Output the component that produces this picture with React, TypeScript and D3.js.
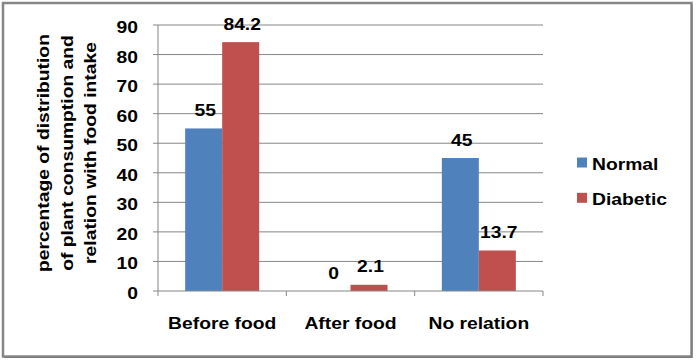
import React from 'react';
import * as d3 from 'd3';

const categories = ['Before food', 'After food', 'No relation'];
const seriesNames = ['Normal', 'Diabetic'];
const normalValues = [55, 0, 45];
const diabeticValues = [84.2, 2.1, 13.7];
const yTicks = [0, 10, 20, 30, 40, 50, 60, 70, 80, 90];
const yTitleLines = [
  'percentage of distribution',
  'of plant consumption and',
  'relation with food intake',
];

const colors = ['#4F81BD', '#C0504D'];
const gridColor = '#868686';
const font = '"Liberation Sans", Arial, sans-serif';

const width = 696;
const height = 360;
const plot = { left: 158, right: 543, top: 25, bottom: 291 };

// text in the picture is a bit wider than Arial, so stretch it along its direction
const stretch = 1.17;

const Label = ({ x, y, text, anchor = 'middle', rotate = 0 }) => (
  <text
    transform={`translate(${x},${y}) rotate(${rotate}) scale(${stretch},1)`}
    textAnchor={anchor}
    fontFamily={font}
    fontWeight="bold"
    fontSize={16.5}
    fill="#000"
  >
    {text}
  </text>
);

const App = () => {
  const x0 = d3
    .scaleBand()
    .domain(categories)
    .range([plot.left, plot.right])
    .paddingInner(0.4233)
    .paddingOuter(0.2117);

  const x1 = d3.scaleBand().domain(seriesNames).range([0, x0.bandwidth()]);

  const y = d3.scaleLinear().domain([0, 90]).range([plot.bottom, plot.top]);

  const rows = categories.map((c, i) => ({
    category: c,
    values: [normalValues[i], diabeticValues[i]],
  }));

  const step = x0.step();
  const boundaries = d3.range(categories.length + 1).map((i) => plot.left + i * step);

  return (
    <svg
      width={width}
      height={height}
      style={{ position: 'absolute', left: 0, top: 0, background: '#fff' }}
    >
      <rect x={0} y={0} width={width} height={height} fill="#fff" />
      {/* frame, a bit heavier on the right and bottom like the original's shadow */}
      <rect
        x={3}
        y={3}
        width={688.5}
        height={353.5}
        fill="#fff"
        stroke={gridColor}
        strokeWidth={2.5}
      />
      <line x1={692} x2={692} y1={4} y2={358} stroke="#7a7a7a" strokeWidth={1} />
      <line x1={4} x2={692} y1={357.5} y2={357.5} stroke="#7a7a7a" strokeWidth={1} />

      {/* gridlines */}
      {yTicks.slice(1).map((t) => (
        <line
          key={'g' + t}
          x1={plot.left}
          x2={plot.right}
          y1={y(t)}
          y2={y(t)}
          stroke={gridColor}
          strokeWidth={1}
        />
      ))}

      {/* bars */}
      {rows.map((r) =>
        r.values.map((v, j) => (
          <rect
            key={r.category + j}
            x={x0(r.category) + x1(seriesNames[j])}
            y={y(v)}
            width={x1.bandwidth()}
            height={y(0) - y(v)}
            fill={colors[j]}
          />
        ))
      )}

      {/* y axis */}
      <line x1={plot.left} x2={plot.left} y1={plot.top} y2={plot.bottom} stroke={gridColor} />
      {yTicks.map((t) => (
        <g key={'t' + t}>
          <line x1={plot.left - 5} x2={plot.left} y1={y(t)} y2={y(t)} stroke={gridColor} />
          <Label x={138} y={y(t) + 8} text={String(t)} anchor="end" />
        </g>
      ))}

      {/* x axis */}
      <line x1={plot.left} x2={plot.right} y1={plot.bottom} y2={plot.bottom} stroke={gridColor} />
      {boundaries.map((bx, i) => (
        <line key={'b' + i} x1={bx} x2={bx} y1={plot.bottom} y2={plot.bottom + 5} stroke={gridColor} />
      ))}
      {categories.map((c) => (
        <Label key={'c' + c} x={x0(c) + x0.bandwidth() / 2} y={329} text={c} />
      ))}

      {/* data labels */}
      {rows.map((r) =>
        r.values.map((v, j) => (
          <Label
            key={'l' + r.category + j}
            x={x0(r.category) + x1(seriesNames[j]) + x1.bandwidth() / 2 + 1.5}
            y={y(v) - 12.5}
            text={String(v)}
          />
        ))
      )}

      {/* y title */}
      {yTitleLines.map((line, i) => (
        <Label key={'y' + i} x={49 + i * 23.5} y={153} text={line} rotate={-90} />
      ))}

      {/* legend */}
      {seriesNames.map((s, i) => (
        <g key={'lg' + s}>
          <rect x={577} y={157.5 + i * 35.3} width={10} height={10} fill={colors[i]} />
          <Label x={592} y={170 + i * 34.5} text={s} anchor="start" />
        </g>
      ))}
    </svg>
  );
};

export default App;
